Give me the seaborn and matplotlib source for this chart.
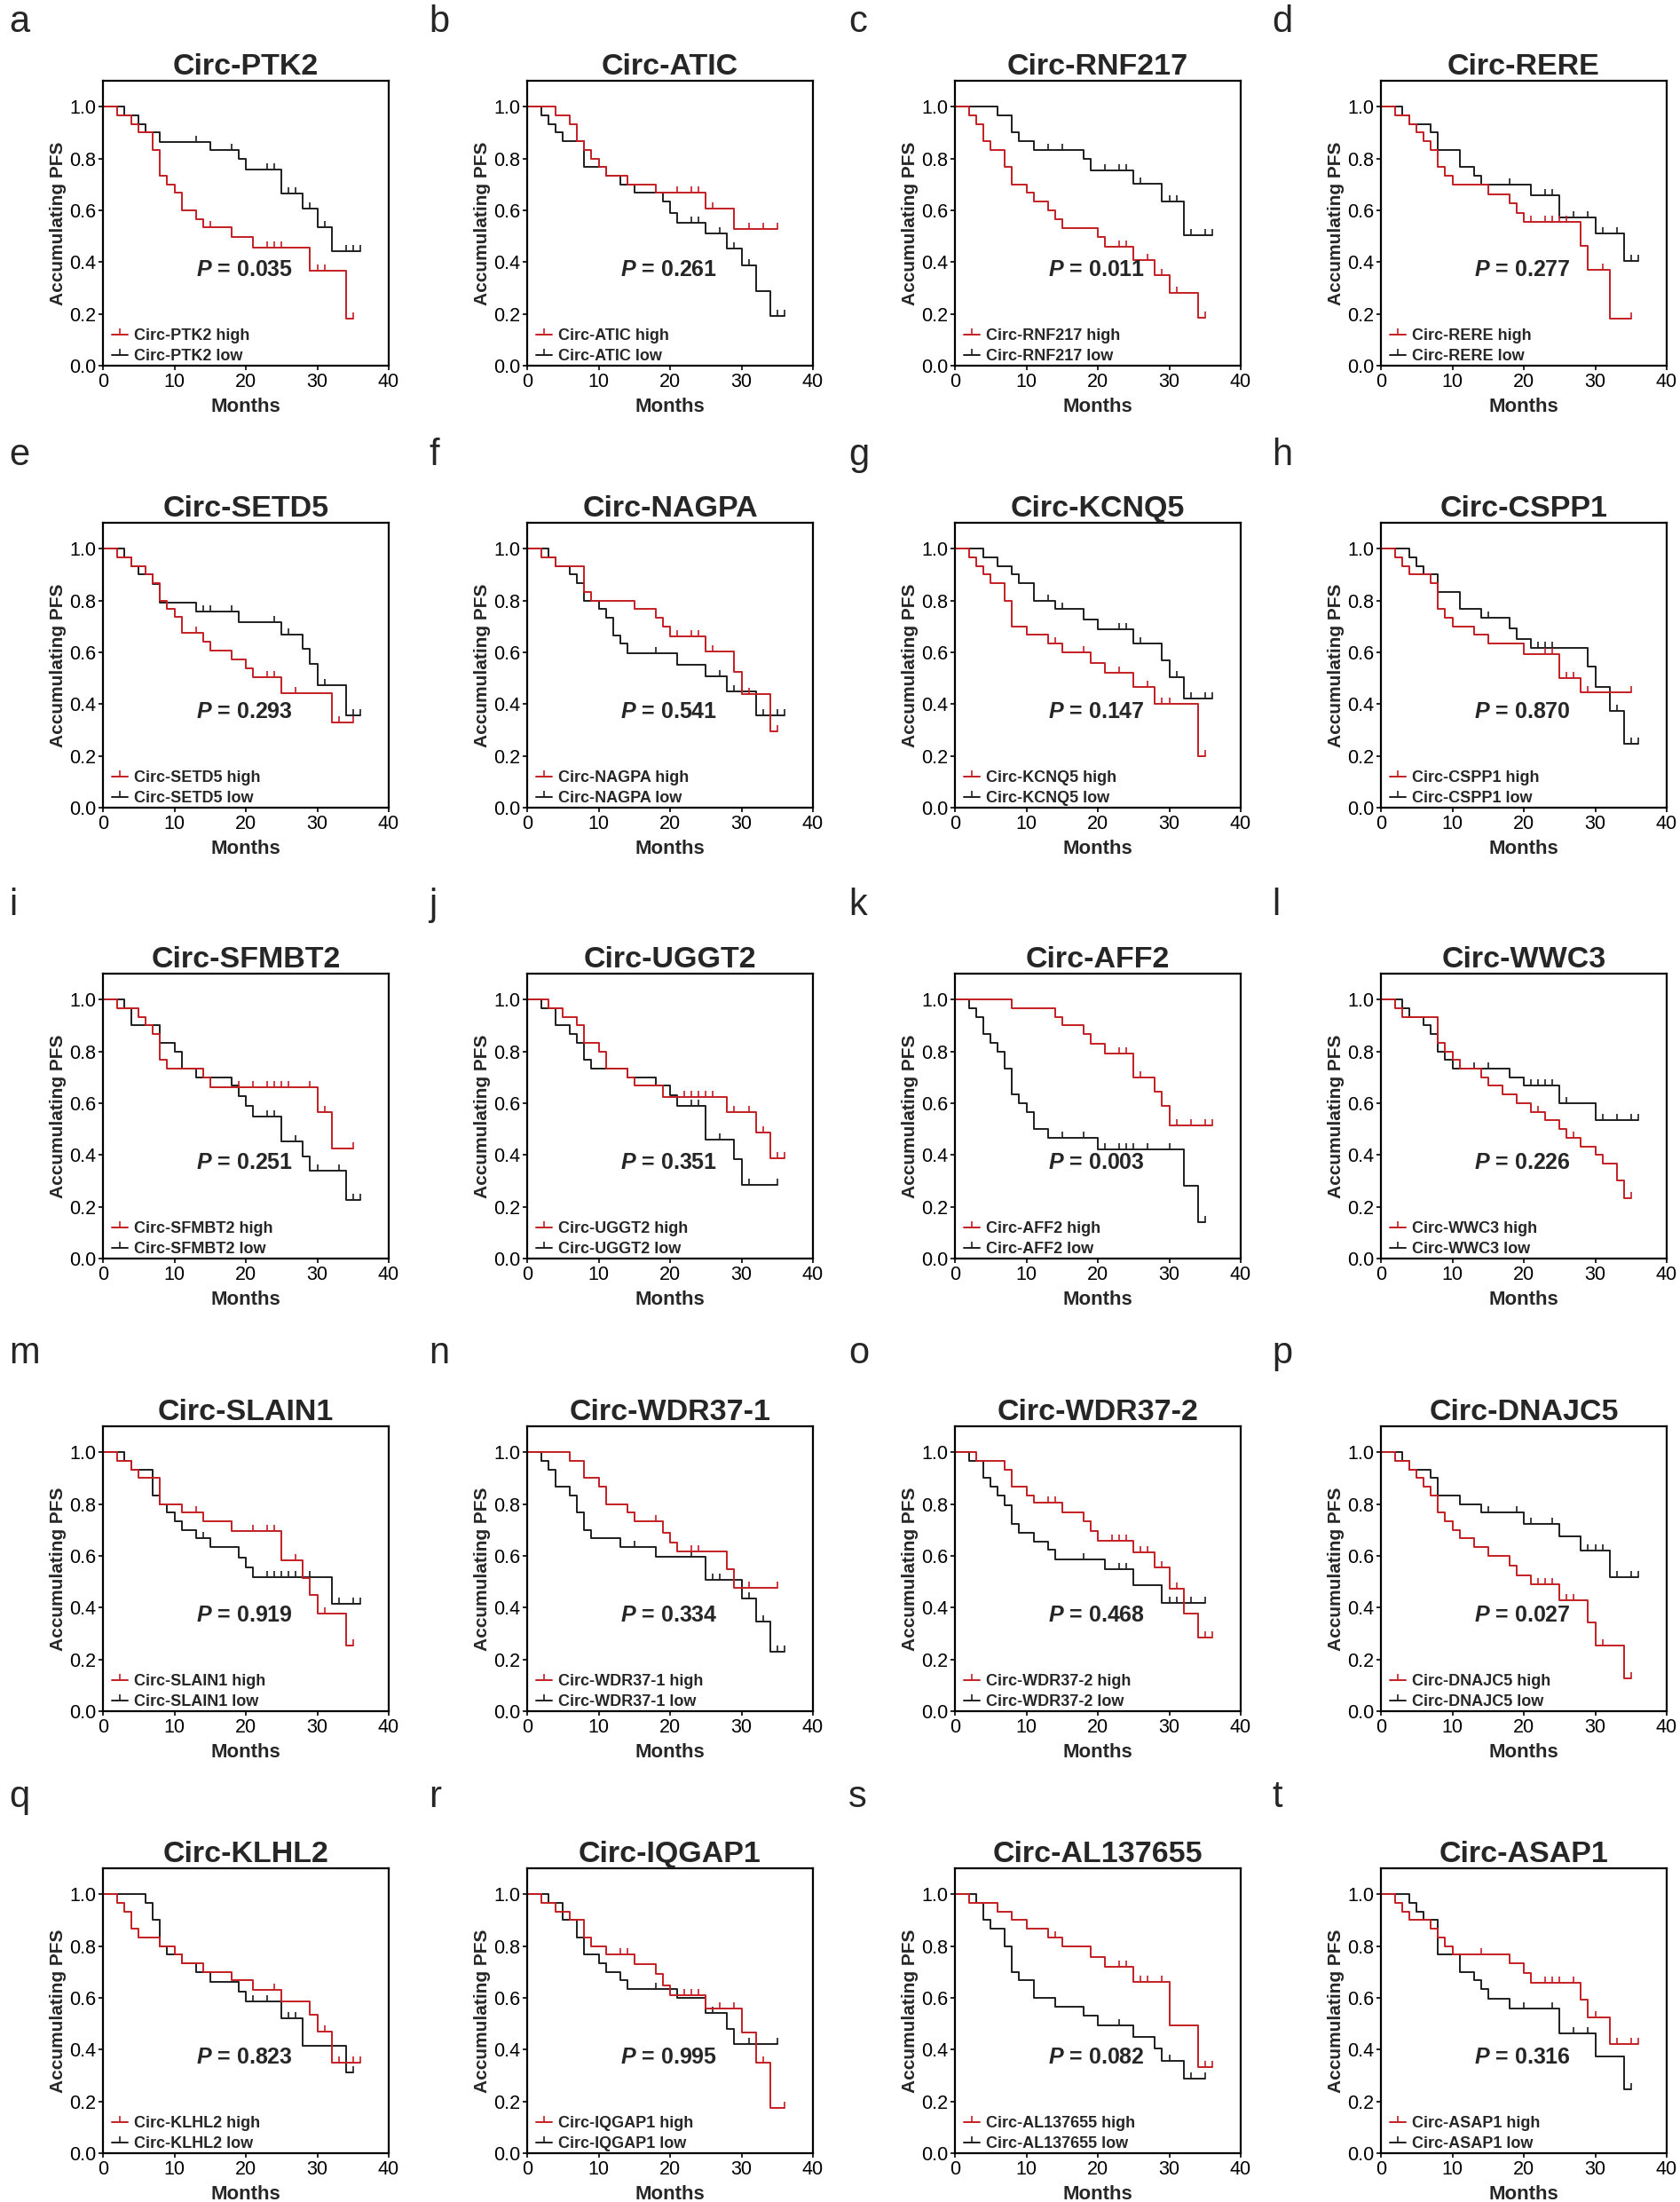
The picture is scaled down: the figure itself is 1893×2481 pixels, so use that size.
import numpy as np
import matplotlib
matplotlib.use("Agg")
import matplotlib.pyplot as plt
import seaborn as sns
from matplotlib.lines import Line2D
from matplotlib.ticker import FormatStrFormatter

# each curve: (month, survival after the drop) pairs, plus censored months
ptk2_hi = [(2, .967), (4, .933), (5, .9), (7, .833), (8, .733), (9, .7), (10, .667), (11, .6), (13, .567), (14, .533), (18, .497), (21, .456), (29, .365), (34, .182)]
ptk2_hi_c = [15, 23, 24, 25, 30, 31, 35]
ptk2_lo = [(3, .967), (5, .933), (6, .9), (8, .865), (15, .833), (19, .797), (20, .759), (25, .665), (28, .608), (30, .534), (32, .442)]
ptk2_lo_c = [13, 18, 23, 24, 26, 27, 29, 31, 34, 35, 36]

atic_hi = [(4, .967), (6, .933), (7, .868), (8, .833), (9, .8), (10, .767), (11, .733), (14, .7), (18, .667), (25, .605), (29, .529)]
atic_hi_c = [21, 23, 24, 26, 31, 33, 35]
atic_lo = [(2, .967), (3, .933), (4, .9), (5, .867), (8, .767), (11, .733), (13, .7), (15, .667), (19, .633), (20, .589), (21, .552), (25, .509), (28, .451), (30, .386), (32, .289), (34, .192)]
atic_lo_c = [23, 24, 27, 29, 31, 35, 36]

rnf217_hi = [(2, .967), (3, .933), (4, .867), (5, .833), (7, .767), (8, .7), (10, .667), (11, .633), (13, .6), (14, .567), (15, .53), (20, .497), (21, .459), (25, .408), (28, .349), (30, .28), (34, .185)]
rnf217_hi_c = [23, 24, 27, 29, 31, 35]
rnf217_lo = [(6, .967), (8, .9), (9, .867), (11, .833), (18, .8), (19, .754), (25, .703), (29, .633), (32, .505)]
rnf217_lo_c = [13, 15, 21, 23, 24, 26, 30, 31, 33, 35, 36]

rere_hi = [(2, .967), (4, .933), (5, .9), (6, .867), (7, .833), (8, .767), (9, .733), (10, .7), (15, .663), (18, .627), (19, .591), (20, .554), (28, .463), (29, .371), (32, .183)]
rere_hi_c = [21, 23, 24, 25, 26, 31, 35]
rere_lo = [(3, .967), (4, .933), (7, .9), (8, .833), (11, .767), (13, .733), (14, .7), (21, .659), (25, .571), (30, .509), (34, .406)]
rere_lo_c = [18, 23, 24, 27, 29, 31, 33, 35, 36]

setd5_hi = [(2, .967), (4, .933), (6, .9), (7, .867), (8, .8), (9, .767), (10, .738), (11, .676), (14, .642), (15, .608), (18, .573), (20, .539), (21, .505), (25, .442), (32, .33)]
setd5_hi_c = [13, 23, 24, 27, 33, 35]
setd5_lo = [(3, .967), (4, .933), (5, .9), (7, .862), (8, .793), (13, .756), (19, .715), (25, .667), (28, .612), (29, .555), (30, .473), (34, .358)]
setd5_lo_c = [14, 15, 18, 24, 26, 31, 35, 36]

nagpa_hi = [(2, .967), (4, .933), (8, .833), (9, .8), (15, .767), (18, .733), (19, .7), (20, .661), (25, .602), (29, .526), (30, .438), (34, .293)]
nagpa_hi_c = [21, 23, 24, 26, 31, 35]
nagpa_lo = [(3, .967), (4, .933), (6, .9), (7, .867), (8, .8), (10, .767), (11, .733), (12, .664), (13, .633), (14, .595), (21, .553), (25, .507), (28, .45), (32, .358)]
nagpa_lo_c = [18, 27, 29, 30, 33, 35, 36]

kcnq5_hi = [(2, .967), (3, .933), (4, .9), (5, .867), (7, .8), (8, .698), (10, .667), (13, .633), (15, .6), (19, .558), (21, .522), (25, .467), (28, .4), (34, .199)]
kcnq5_hi_c = [14, 18, 23, 27, 29, 30, 35]
kcnq5_lo = [(4, .967), (6, .933), (8, .9), (9, .867), (11, .8), (14, .767), (18, .728), (20, .688), (25, .635), (29, .57), (30, .505), (32, .423)]
kcnq5_lo_c = [13, 15, 23, 24, 26, 31, 33, 35, 36]

cspp1_hi = [(2, .967), (3, .933), (4, .9), (7, .867), (8, .767), (9, .733), (10, .7), (13, .667), (15, .633), (20, .593), (25, .501), (28, .444)]
cspp1_hi_c = [23, 24, 26, 27, 29, 35]
cspp1_lo = [(4, .967), (5, .933), (6, .9), (8, .833), (11, .767), (14, .733), (18, .693), (19, .652), (21, .616), (29, .545), (30, .467), (32, .372), (34, .246)]
cspp1_lo_c = [15, 22, 23, 24, 33, 35, 36]

sfmbt2_hi = [(2, .967), (5, .933), (6, .9), (7, .867), (8, .767), (9, .733), (14, .7), (15, .662), (30, .566), (32, .424)]
sfmbt2_hi_c = [19, 21, 23, 24, 25, 26, 29, 31, 35]
sfmbt2_lo = [(3, .967), (4, .9), (8, .833), (10, .8), (11, .733), (13, .7), (18, .667), (19, .627), (20, .59), (21, .55), (25, .451), (28, .395), (29, .338), (34, .226)]
sfmbt2_lo_c = [23, 24, 27, 30, 33, 35, 36]

uggt2_hi = [(3, .967), (5, .933), (7, .9), (8, .833), (10, .8), (11, .733), (14, .7), (15, .667), (19, .625), (28, .566), (32, .486), (34, .386)]
uggt2_hi_c = [22, 23, 24, 25, 26, 29, 31, 33, 35, 36]
uggt2_lo = [(2, .967), (4, .9), (6, .867), (7, .833), (8, .767), (9, .733), (14, .7), (18, .667), (20, .63), (21, .59), (25, .458), (29, .383), (30, .286)]
uggt2_lo_c = [23, 24, 27, 31, 35]

aff2_hi = [(8, .967), (14, .933), (15, .9), (18, .867), (19, .829), (21, .79), (25, .698), (28, .643), (29, .589), (30, .514)]
aff2_hi_c = [23, 24, 26, 31, 33, 35, 36]
aff2_lo = [(2, .967), (3, .933), (4, .867), (5, .833), (6, .8), (7, .733), (8, .633), (9, .6), (10, .567), (11, .5), (13, .467), (20, .423), (32, .28), (34, .14)]
aff2_lo_c = [15, 18, 21, 23, 24, 25, 27, 30, 35]

wwc3_hi = [(2, .967), (3, .933), (8, .833), (9, .8), (10, .767), (11, .733), (14, .7), (15, .667), (17, .633), (19, .6), (21, .567), (23, .533), (25, .5), (26, .467), (28, .433), (30, .4), (31, .367), (33, .3), (34, .233)]
wwc3_hi_c = [22, 27, 35]
wwc3_lo = [(3, .967), (4, .933), (6, .9), (7, .867), (8, .8), (9, .767), (10, .733), (18, .7), (20, .667), (25, .6), (30, .533)]
wwc3_lo_c = [13, 15, 21, 22, 23, 24, 26, 31, 33, 35, 36]

slain1_hi = [(2, .967), (4, .933), (5, .9), (8, .8), (11, .767), (14, .733), (18, .697), (25, .581), (28, .515), (29, .45), (30, .378), (34, .252)]
slain1_hi_c = [13, 21, 23, 24, 27, 31, 35]
slain1_lo = [(3, .967), (4, .933), (7, .833), (8, .8), (9, .767), (10, .733), (11, .7), (13, .667), (15, .633), (19, .593), (20, .555), (21, .519), (32, .415)]
slain1_lo_c = [14, 23, 24, 25, 26, 27, 29, 33, 35, 36]

wdr37a_hi = [(6, .967), (8, .9), (10, .867), (11, .8), (14, .767), (15, .733), (19, .69), (20, .652), (21, .616), (28, .547), (29, .478)]
wdr37a_hi_c = [18, 23, 24, 31, 35]
wdr37a_lo = [(2, .967), (3, .933), (4, .867), (6, .833), (7, .767), (8, .7), (9, .667), (13, .633), (18, .596), (25, .507), (30, .436), (32, .347), (34, .229)]
wdr37a_lo_c = [15, 23, 26, 27, 31, 33, 35, 36]

wdr37b_hi = [(3, .967), (7, .933), (8, .867), (10, .833), (11, .806), (15, .769), (18, .733), (19, .695), (20, .659), (25, .614), (28, .554), (30, .472), (32, .377), (34, .283)]
wdr37b_hi_c = [13, 14, 22, 23, 24, 26, 27, 29, 31, 35, 36]
wdr37b_lo = [(2, .967), (4, .9), (5, .867), (6, .833), (7, .794), (8, .722), (9, .689), (11, .655), (13, .623), (14, .586), (21, .549), (25, .486), (29, .417)]
wdr37b_lo_c = [18, 23, 24, 30, 31, 32, 33, 35]

dnajc5_hi = [(2, .967), (4, .933), (5, .9), (6, .867), (7, .833), (8, .767), (9, .733), (10, .7), (11, .667), (13, .633), (15, .6), (18, .561), (19, .526), (21, .49), (25, .43), (29, .341), (30, .255), (34, .126)]
dnajc5_hi_c = [22, 23, 24, 26, 27, 31, 35]
dnajc5_lo = [(3, .967), (4, .933), (7, .9), (8, .833), (11, .8), (14, .767), (20, .722), (25, .676), (28, .619), (32, .516)]
dnajc5_lo_c = [15, 19, 21, 24, 29, 30, 31, 33, 35, 36]

klhl2_hi = [(2, .967), (3, .933), (4, .867), (5, .833), (8, .8), (10, .767), (11, .733), (14, .7), (18, .667), (21, .629), (25, .585), (29, .536), (30, .469), (32, .351)]
klhl2_hi_c = [24, 31, 33, 35, 36]
klhl2_lo = [(6, .967), (7, .9), (8, .8), (9, .767), (11, .733), (13, .7), (15, .663), (19, .625), (20, .585), (25, .52), (28, .416), (34, .311)]
klhl2_lo_c = [21, 23, 26, 27, 35]

iqgap1_hi = [(2, .967), (4, .933), (6, .9), (8, .833), (9, .8), (11, .767), (15, .731), (18, .692), (19, .649), (20, .61), (25, .558), (30, .466), (32, .349), (34, .174)]
iqgap1_hi_c = [13, 14, 22, 23, 24, 27, 29, 33, 36]
iqgap1_lo = [(3, .967), (5, .9), (7, .833), (8, .767), (10, .733), (11, .7), (13, .667), (14, .633), (21, .598), (25, .543), (28, .48), (29, .42)]
iqgap1_lo_c = [18, 26, 31, 35]

al137655_hi = [(2, .967), (6, .933), (8, .9), (10, .867), (13, .833), (15, .797), (19, .757), (21, .719), (25, .661), (30, .494), (34, .332)]
al137655_hi_c = [14, 23, 24, 26, 27, 29, 35, 36]
al137655_lo = [(3, .967), (4, .9), (5, .867), (7, .8), (8, .698), (9, .667), (11, .598), (14, .567), (18, .53), (20, .492), (25, .449), (28, .403), (29, .358), (32, .288)]
al137655_lo_c = [23, 30, 33, 35]

asap1_hi = [(2, .967), (3, .933), (4, .9), (7, .867), (8, .833), (9, .8), (10, .767), (18, .733), (20, .694), (21, .658), (28, .592), (29, .526), (32, .422)]
asap1_hi_c = [14, 23, 24, 25, 27, 30, 33, 35, 36]
asap1_lo = [(4, .967), (5, .933), (6, .9), (8, .767), (11, .7), (13, .667), (14, .633), (15, .597), (18, .557), (25, .463), (30, .372), (34, .248)]
asap1_lo_c = [20, 24, 27, 29, 35]

genes = ["PTK2", "ATIC", "RNF217", "RERE", "SETD5", "NAGPA", "KCNQ5", "CSPP1",
         "SFMBT2", "UGGT2", "AFF2", "WWC3", "SLAIN1", "WDR37-1", "WDR37-2", "DNAJC5",
         "KLHL2", "IQGAP1", "AL137655", "ASAP1"]
pvals = ["0.035", "0.261", "0.011", "0.277", "0.293", "0.541", "0.147", "0.870",
         "0.251", "0.351", "0.003", "0.226", "0.919", "0.334", "0.468", "0.027",
         "0.823", "0.995", "0.082", "0.316"]
letters = list("abcdefghijklmnopqrst")

curves = {
    "PTK2": (ptk2_hi, ptk2_hi_c, ptk2_lo, ptk2_lo_c),
    "ATIC": (atic_hi, atic_hi_c, atic_lo, atic_lo_c),
    "RNF217": (rnf217_hi, rnf217_hi_c, rnf217_lo, rnf217_lo_c),
    "RERE": (rere_hi, rere_hi_c, rere_lo, rere_lo_c),
    "SETD5": (setd5_hi, setd5_hi_c, setd5_lo, setd5_lo_c),
    "NAGPA": (nagpa_hi, nagpa_hi_c, nagpa_lo, nagpa_lo_c),
    "KCNQ5": (kcnq5_hi, kcnq5_hi_c, kcnq5_lo, kcnq5_lo_c),
    "CSPP1": (cspp1_hi, cspp1_hi_c, cspp1_lo, cspp1_lo_c),
    "SFMBT2": (sfmbt2_hi, sfmbt2_hi_c, sfmbt2_lo, sfmbt2_lo_c),
    "UGGT2": (uggt2_hi, uggt2_hi_c, uggt2_lo, uggt2_lo_c),
    "AFF2": (aff2_hi, aff2_hi_c, aff2_lo, aff2_lo_c),
    "WWC3": (wwc3_hi, wwc3_hi_c, wwc3_lo, wwc3_lo_c),
    "SLAIN1": (slain1_hi, slain1_hi_c, slain1_lo, slain1_lo_c),
    "WDR37-1": (wdr37a_hi, wdr37a_hi_c, wdr37a_lo, wdr37a_lo_c),
    "WDR37-2": (wdr37b_hi, wdr37b_hi_c, wdr37b_lo, wdr37b_lo_c),
    "DNAJC5": (dnajc5_hi, dnajc5_hi_c, dnajc5_lo, dnajc5_lo_c),
    "KLHL2": (klhl2_hi, klhl2_hi_c, klhl2_lo, klhl2_lo_c),
    "IQGAP1": (iqgap1_hi, iqgap1_hi_c, iqgap1_lo, iqgap1_lo_c),
    "AL137655": (al137655_hi, al137655_hi_c, al137655_lo, al137655_lo_c),
    "ASAP1": (asap1_hi, asap1_hi_c, asap1_lo, asap1_lo_c),
}

sns.set_theme(style="ticks")
plt.rcParams["font.family"] = ["Liberation Sans", "DejaVu Sans"]
plt.rcParams["mathtext.fontset"] = "custom"
plt.rcParams["mathtext.rm"] = "Liberation Sans"
plt.rcParams["mathtext.bfit"] = "Liberation Sans:bold:italic"

RED = "#c41e24"
BLACK = "#1e1e1e"
W, H = 1893, 2481
col_left = [116, 594, 1076, 1556]
row_top = [91, 589, 1097, 1607, 2105]
letter_x = [10, 483, 956, 1433]
letter_base = [36, 524, 1031, 1536, 2036]
aw, ah = 322, 321


def step_xy(events, cens):
    t = [0] + [e[0] for e in events]
    s = [1.0] + [e[1] for e in events]
    t.append(max(cens))
    s.append(s[-1])
    return t, s


def surv_at(events, times):
    out = []
    for tm in times:
        v = 1.0
        for et, es in events:
            if et <= tm:
                v = es
        out.append(v)
    return out


fig = plt.figure(figsize=(W / 100, H / 100), dpi=100)

for i, gene in enumerate(genes):
    r, c = divmod(i, 4)
    ax = fig.add_axes([col_left[c] / W, 1 - (row_top[r] + ah) / H, aw / W, ah / H])
    hi, hi_c, lo, lo_c = curves[gene]
    for ev, ce, col in [(lo, lo_c, BLACK), (hi, hi_c, RED)]:
        t, s = step_xy(ev, ce)
        sns.lineplot(x=t, y=s, drawstyle="steps-post", color=col, lw=1.4,
                     ax=ax, estimator=None, sort=False, legend=False)
        ax.plot(ce, surv_at(ev, ce), ls="none", marker=2, ms=5, mew=1.2, color=col)

    ax.text(19.8, 0.37, r"$\mathbfit{P}$ = " + pvals[i], ha="center", va="center",
            fontsize=18, fontweight="bold")

    handles = [Line2D([], [], color=RED, lw=1.4, marker=2, ms=5, mew=1.2),
               Line2D([], [], color=BLACK, lw=1.4, marker=2, ms=5, mew=1.2)]
    ax.legend(handles, [f"Circ-{gene} high", f"Circ-{gene} low"], loc="lower left",
              bbox_to_anchor=(0.03, 0.005), frameon=False, borderpad=0, borderaxespad=0,
              handlelength=1.0, handletextpad=0.4, labelspacing=0.35, numpoints=1,
              prop={"weight": "bold", "size": 13})

    ax.set_xlim(0, 40)
    ax.set_ylim(0, 1.1)
    ax.set_xticks([0, 10, 20, 30, 40])
    ax.set_yticks(np.arange(0, 1.01, 0.2))
    ax.yaxis.set_major_formatter(FormatStrFormatter("%.1f"))
    ax.tick_params(labelsize=15.5, length=3.5, width=1.2, pad=2, color="black", labelcolor="black")
    for sp in ax.spines.values():
        sp.set_linewidth(1.6)
        sp.set_color("black")
    ax.set_title(f"Circ-{gene}", fontsize=24.5, fontweight="bold", pad=2)
    ax.set_xlabel("Months", fontsize=16, fontweight="bold", labelpad=5)
    ax.set_ylabel("Accumulating PFS", fontsize=15, fontweight="bold", labelpad=2)
    fig.text(letter_x[c] / W, 1 - letter_base[r] / H, letters[i], fontsize=30,
             ha="left", va="baseline")

fig.savefig("out.png", dpi=100)
